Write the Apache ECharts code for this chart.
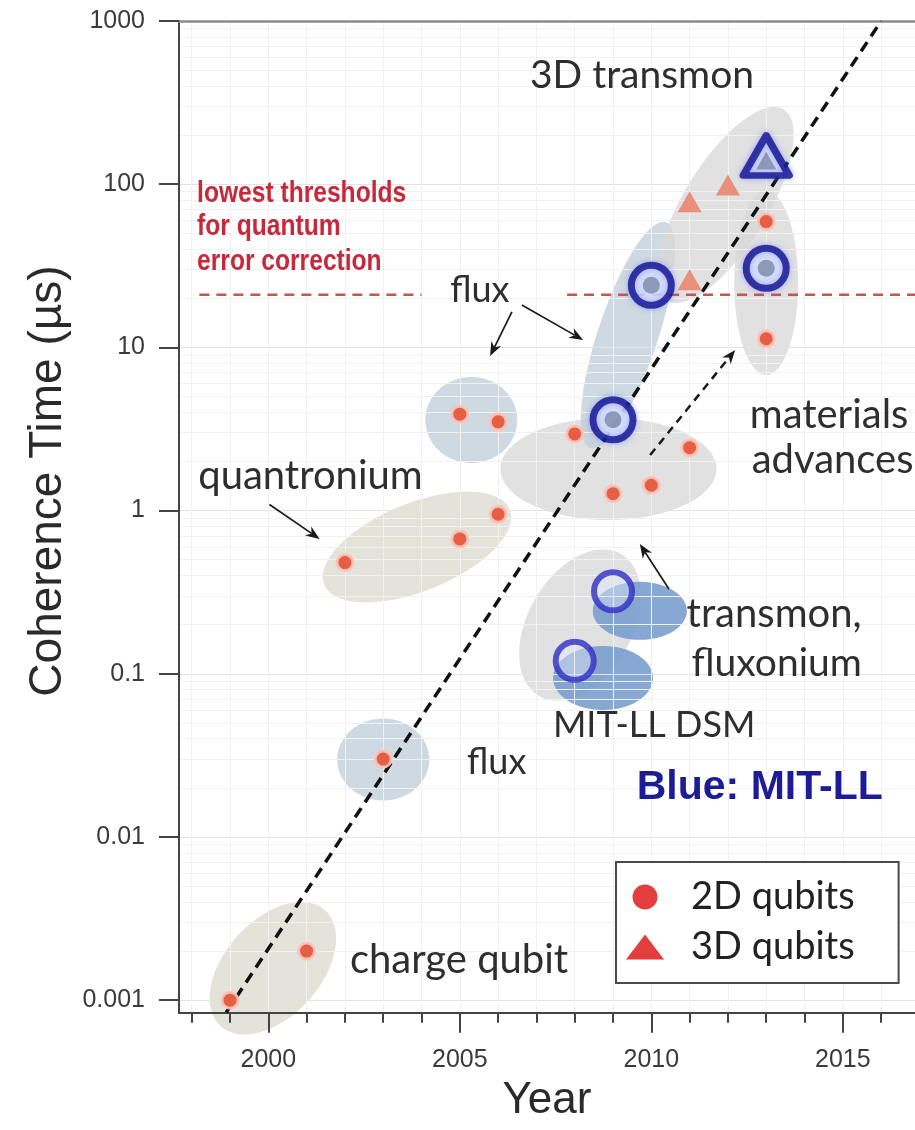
<!DOCTYPE html>
<html><head><meta charset="utf-8">
<script src="https://cdn.jsdelivr.net/npm/echarts@6/dist/echarts.min.js"></script>
<style>html,body{margin:0;padding:0;background:#fff}#c{width:915px;height:1130px}</style>
</head><body><div id="c"></div>
<script>
// ---------- data ----------
const yTickValues = [0.001, 0.01, 0.1, 1, 10, 100, 1000];
const yTickLabels = ['0.001', '0.01', '0.1', '1', '10', '100', '1000'];
const xTickValues = [2000, 2005, 2010, 2015];
const xTickLabels = ['2000', '2005', '2010', '2015'];
const xMinorTicks = [1998, 1999, 2000, 2001, 2002, 2003, 2004, 2005, 2006, 2007, 2008, 2009, 2010, 2011, 2012, 2013, 2014, 2015, 2016];

const years2D = [1999, 2001, 2002, 2003, 2005, 2006, 2005, 2006, 2008, 2009, 2010, 2011, 2013, 2013];
const coherence2D = [0.001, 0.002, 0.48, 0.03, 0.67, 0.95, 3.9, 3.5, 2.95, 1.27, 1.43, 2.43, 59, 11.3];
const years3D = [2011, 2012, 2011];
const coherence3D = [78, 99, 26];
const mitYears = [2009, 2010, 2013];
const mitCoherence = [3.6, 24, 30.5];
const mitDsmYears = [2009, 2008];
const mitDsmCoherence = [0.32, 0.12];
const mit3DYears = [2013];
const mit3DCoherence = [150];
const trendYears = [1998.9, 2016];
const trendCoherence = [0.00084, 1000];
const thresholdValue = 21;
const thresholdSpans = [[1998.2, 2004.0], [2007.8, 2016.885]];

// annotation anchors (data coordinates)
const regionYear = [2000.12, 2003.0, 2003.88, 2005.3, 2008.88, 2009.39, 2011.93, 2013.0, 2008.14, 2009.70, 2008.74];
const regionT = [0.00157, 0.0298, 0.598, 3.59, 1.8, 11.9, 74.6, 24.8, 0.199, 0.243, 0.0942];
const labelText = ['3D transmon', 'lowest thresholds', 'for quantum', 'error correction', 'flux', 'quantronium',
  'materials', 'advances', 'transmon,', 'fluxonium', 'MIT-LL DSM', 'flux', 'Blue: MIT-LL', 'charge qubit'];
const labelYear = [2006.83, 1998.14, 1998.14, 1998.14, 2004.75, 1998.17, 2012.57, 2012.62, 2010.92, 2011.05, 2007.43, 2005.19, 2009.62, 2002.13];
const labelT = [467, 87.1, 54.7, 33.3, 22.5, 1.63, 3.86, 2.04, 0.232, 0.1164, 0.0482, 0.0288, 0.02, 0.00176];
const arrowFrom = [[2006.62, 18.2], [2006.36, 16.5], [2000.03, 1.09], [2010.46, 0.331], [2009.97, 2.19]];
const arrowTo = [[2008.22, 11.1], [2005.79, 8.85], [2001.34, 0.670], [2009.70, 0.624], [2012.19, 9.64]];

// ---------- styles ----------
const BEIGE = 'rgba(221,220,208,0.8)', BLUEGRAY = 'rgba(195,207,217,0.8)', GRAY = 'rgba(216,216,216,0.78)', BLUE = 'rgba(118,156,204,0.88)';
const regionShape = [
  {rx: 78, ry: 48, ang: 48, fill: BEIGE},
  {rx: 46, ry: 41, ang: 0, fill: BLUEGRAY},
  {rx: 100, ry: 44, ang: 22, fill: BEIGE},
  {rx: 46, ry: 43, ang: 0, fill: BLUEGRAY},
  {rx: 108, ry: 51, ang: 0, fill: GRAY},
  {rx: 119, ry: 30, ang: 71.6, fill: BLUEGRAY},
  {rx: 112, ry: 42, ang: 58.6, fill: GRAY},
  {rx: 32, ry: 92, ang: 0, fill: GRAY},
  {rx: 82, ry: 52, ang: 60, fill: GRAY},
  {rx: 47, ry: 29, ang: 0, fill: BLUE},
  {rx: 50, ry: 32, ang: 0, fill: BLUE}
];
const labelKind = ['note', 'warn', 'warn', 'warn', 'note', 'note', 'note', 'note', 'note', 'note', 'note', 'note', 'mit', 'note'];
const labelSize = [39, 30, 30, 30, 36, 40, 40, 40, 40, 39, 36, 36, 41, 40];
const kindStyle = {
  note: {weight: 'normal', family: 'Lato', fill: '#2e2e2e', scaleX: 1},
  warn: {weight: 'bold', family: '"Liberation Sans"', fill: '#c8283a', scaleX: 0.82},
  mit: {weight: 'bold', family: '"Liberation Sans"', fill: '#1c1c96', scaleX: 1}
};
const arrowDashed = [false, false, false, false, true];

const yMin = 0.000838, yMax = 1000, xMin = 1997.668, xMax = 2016.885;
const yMinor = [];
for (let e = -3; e <= 2; e++) for (let m = 2; m <= 9; m++) yMinor.push(+(m * Math.pow(10, e)).toPrecision(3));

function ellipsePoints(cx, cy, rx, ry, angDeg) {
  const a = -angDeg * Math.PI / 180, ca = Math.cos(a), sa = Math.sin(a), pts = [];
  for (let k = 0; k < 90; k++) {
    const t = k / 90 * 2 * Math.PI, x = rx * Math.cos(t), y = ry * Math.sin(t);
    pts.push([cx + x * ca - y * sa, cy + x * sa + y * ca]);
  }
  return pts;
}
const pair = (xs, ys) => xs.map((x, i) => [x, ys[i]]);

const chart = echarts.init(document.getElementById('c'));
const axisColor = '#444';
chart.setOption({
  animation: false,
  grid: {left: 179, right: 0, top: 21, bottom: 117.3, containLabel: false},
  graphic: [{
    type: 'text', x: 48, y: 481, rotation: Math.PI / 2, silent: true,
    style: {text: 'Coherence Time (µs)', font: 'normal 46px "Liberation Sans"', fill: '#2a2a2a', align: 'center', verticalAlign: 'middle'}
  }],
  legend: {
    data: [
      {name: '2D qubits', icon: 'circle', itemStyle: {color: '#e33d3d', borderWidth: 0}},
      {name: '3D qubits', icon: 'triangle', itemStyle: {color: '#e33d3d', borderWidth: 0}}
    ],
    orient: 'vertical', left: 616, top: 862,
    padding: [15, 44, 16, 10], itemGap: 10, itemWidth: 38, itemHeight: 25,
    borderColor: '#4a4a4a', borderWidth: 2, backgroundColor: '#fff', selectedMode: false,
    textStyle: {fontFamily: 'Lato', fontSize: 38, color: '#222', lineHeight: 40, padding: [0, 0, 0, 22]}
  },
  xAxis: [
    {
      type: 'value', min: xMin, max: xMax, position: 'bottom',
      axisLine: {show: true, onZero: false, lineStyle: {color: axisColor, width: 2}},
      axisTick: {show: true, customValues: xTickValues, length: 20, lineStyle: {color: axisColor, width: 2}},
      axisLabel: {customValues: xTickValues, formatter: v => xTickLabels[xTickValues.indexOf(Math.round(v))] || '',
        fontFamily: 'Liberation Sans', fontSize: 25, color: '#3a3a3a', margin: 35},
      splitLine: {show: true, lineStyle: {color: '#e3e3e3', width: 1}},
      name: 'Year', nameLocation: 'middle', nameGap: 66,
      nameTextStyle: {fontFamily: 'Liberation Sans', fontSize: 44, color: '#2a2a2a'}
    },
    {
      type: 'value', min: xMin, max: xMax, position: 'bottom',
      axisLine: {show: false},
      axisTick: {show: true, customValues: xMinorTicks, length: 10, lineStyle: {color: axisColor, width: 2}},
      axisLabel: {show: false},
      splitLine: {show: true, lineStyle: {color: '#f1f1f1', width: 1}}
    },
    {
      type: 'value', min: xMin, max: xMax, position: 'top',
      axisLine: {show: true, onZero: false, lineStyle: {color: '#8a8a8a', width: 2.5}},
      axisTick: {show: false}, axisLabel: {show: false}, splitLine: {show: false}
    }
  ],
  yAxis: [
    {
      type: 'log', logBase: 10, min: yMin, max: yMax,
      axisLine: {show: true, onZero: false, lineStyle: {color: axisColor, width: 2}},
      axisTick: {show: true, customValues: yTickValues, length: 20, lineStyle: {color: axisColor, width: 2}},
      axisLabel: {customValues: yTickValues, formatter: v => yTickLabels[Math.round(Math.log10(v)) + 3],
        fontFamily: 'Liberation Sans', fontSize: 25, color: '#3a3a3a', margin: 34},
      splitLine: {show: true, lineStyle: {color: '#e3e3e3', width: 1}}
    },
    {
      type: 'log', logBase: 10, min: yMin, max: yMax,
      axisLine: {show: false},
      axisTick: {show: true, customValues: yMinor, length: 11, lineStyle: {color: axisColor, width: 2}},
      axisLabel: {show: false},
      splitLine: {show: true, lineStyle: {color: '#f1f1f1', width: 1}}
    }
  ],
  series: [
    {
      type: 'custom', name: 'regions', z: -1, silent: true,
      data: pair(regionYear, regionT),
      renderItem: (params, api) => {
        const c = api.coord([api.value(0), api.value(1)]);
        const s = regionShape[params.dataIndex];
        return {type: 'polygon', shape: {points: ellipsePoints(c[0], c[1], s.rx, s.ry, s.ang)}, style: {fill: s.fill}};
      }
    },
    {
      type: 'line', name: 'threshold a', z: 3, silent: true, symbol: 'none',
      data: thresholdSpans[0].map(x => [x, thresholdValue]),
      lineStyle: {color: '#bb5a52', width: 2.5, type: [10, 7]}
    },
    {
      type: 'line', name: 'threshold b', z: 3, silent: true, symbol: 'none',
      data: thresholdSpans[1].map(x => [x, thresholdValue]),
      lineStyle: {color: '#bb5a52', width: 2.5, type: [10, 7]}
    },
    {
      type: 'line', name: 'trend', z: 4, silent: true, symbol: 'none',
      data: pair(trendYears, trendCoherence),
      lineStyle: {color: '#111', width: 3.5, type: [11, 7]}
    },
    {
      type: 'custom', name: 'arrows', z: 5, silent: true,
      data: arrowFrom.map((f, i) => [f[0], f[1], arrowTo[i][0], arrowTo[i][1]]),
      renderItem: (params, api) => {
        const p1 = api.coord([api.value(0), api.value(1)]), p2 = api.coord([api.value(2), api.value(3)]);
        const dx = p2[0] - p1[0], dy = p2[1] - p1[1], L = Math.hypot(dx, dy), ux = dx / L, uy = dy / L;
        const hl = 14, hw = 5.5, bx = p2[0] - ux * hl, by = p2[1] - uy * hl;
        const nx = p2[0] - ux * hl * 0.7, ny = p2[1] - uy * hl * 0.7;
        const dashed = arrowDashed[params.dataIndex];
        const lineStyle = {stroke: '#1a1a1a', lineWidth: dashed ? 2.5 : 1.7};
        if (dashed) lineStyle.lineDash = [8, 6];
        return {type: 'group', children: [
          {type: 'line', shape: {x1: p1[0], y1: p1[1], x2: nx, y2: ny}, style: lineStyle},
          {type: 'polygon', shape: {points: [[p2[0], p2[1]], [bx - uy * hw, by + ux * hw], [nx, ny], [bx + uy * hw, by - ux * hw]]}, style: {fill: '#1a1a1a'}}
        ]};
      }
    },
    {
      type: 'custom', name: 'labels', z: 6, silent: true,
      data: pair(labelYear, labelT),
      renderItem: (params, api) => {
        const i = params.dataIndex;
        const c = api.coord([api.value(0), api.value(1)]);
        const st = kindStyle[labelKind[i]];
        return {type: 'text', x: c[0], y: c[1], scaleX: st.scaleX,
          style: {text: labelText[i], font: st.weight + ' ' + labelSize[i] + 'px ' + st.family, fill: st.fill, align: 'left', verticalAlign: 'middle'}};
      }
    },
    {
      type: 'scatter', name: '2D qubits', z: 7, symbol: 'circle', symbolSize: 16,
      data: pair(years2D, coherence2D),
      itemStyle: {color: '#e55f45', borderColor: 'rgba(252,196,186,0.9)', borderWidth: 3, opacity: 1}
    },
    {
      type: 'scatter', name: '3D qubits', z: 7, symbol: 'triangle', symbolSize: [24, 21],
      data: pair(years3D, coherence3D),
      itemStyle: {color: '#ea8f7c', opacity: 1}
    },
    {
      type: 'scatter', name: 'MIT-LL 2D', z: 8, symbol: 'circle', symbolSize: 40,
      data: pair(mitYears, mitCoherence),
      itemStyle: {color: 'rgba(232,238,252,0.9)', borderColor: '#10108f', borderWidth: 7, shadowBlur: 6, shadowColor: 'rgba(110,130,255,0.7)'}
    },
    {
      type: 'scatter', name: 'MIT-LL 2D core', z: 9, symbol: 'circle', symbolSize: 17,
      data: pair(mitYears, mitCoherence),
      itemStyle: {color: '#7c88a8'}
    },
    {
      type: 'scatter', name: 'MIT-LL DSM', z: 8, symbol: 'circle', symbolSize: 38,
      data: pair(mitDsmYears, mitDsmCoherence),
      itemStyle: {color: 'rgba(225,235,248,0.55)', borderColor: '#2e2ec4', borderWidth: 6}
    },
    {
      type: 'scatter', name: 'MIT-LL 3D', z: 8, symbol: 'triangle', symbolSize: [46, 40],
      data: pair(mit3DYears, mit3DCoherence),
      itemStyle: {color: 'rgba(225,230,245,0.95)', borderColor: '#10108f', borderWidth: 7, borderJoin: 'round', shadowBlur: 6, shadowColor: 'rgba(110,130,255,0.7)'}
    },
    {
      type: 'scatter', name: 'MIT-LL 3D core', z: 9, symbol: 'triangle', symbolSize: [20, 18], symbolOffset: [0, 5],
      data: pair(mit3DYears, mit3DCoherence),
      itemStyle: {color: '#7c88a8'}
    }
  ]
});
</script></body></html>
